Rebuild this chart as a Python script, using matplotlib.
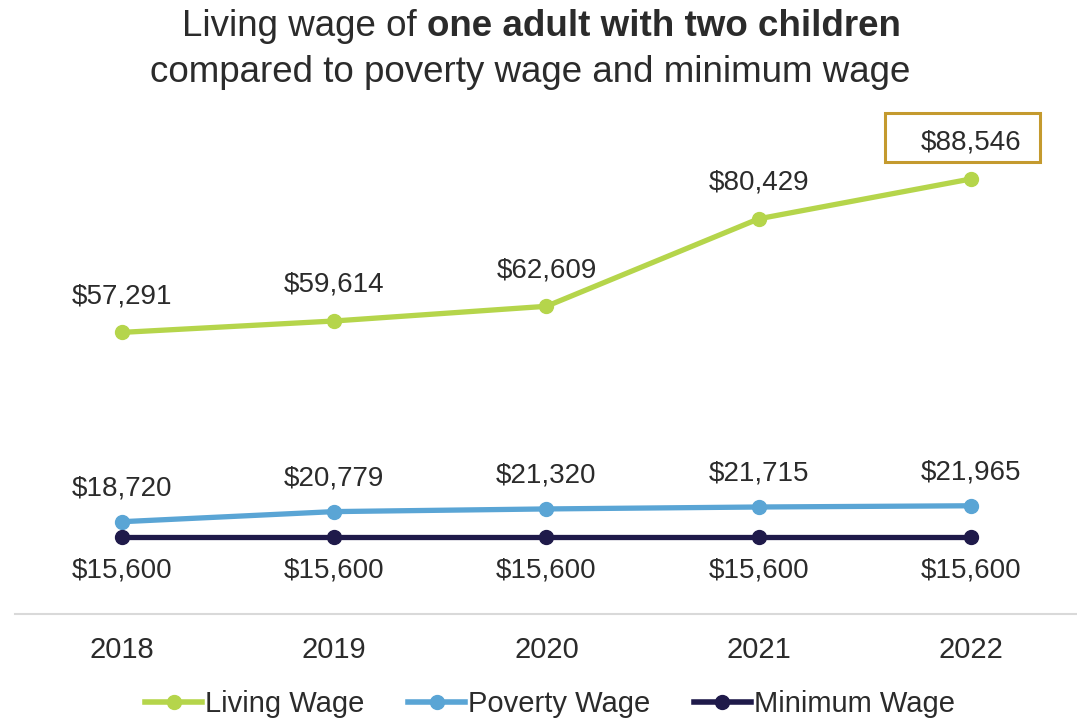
import matplotlib.pyplot as plt
from matplotlib.lines import Line2D
from matplotlib.patches import FancyBboxPatch

plt.rcParams['font.family'] = ['Liberation Sans', 'DejaVu Sans']

years = ['2018', '2019', '2020', '2021', '2022']
living_wage = [57291, 59614, 62609, 80429, 88546]
poverty_wage = [18720, 20779, 21320, 21715, 21965]
minimum_wage = [15600, 15600, 15600, 15600, 15600]

green = '#B5D54B'
blue = '#5AA5D5'
navy = '#1F1A4A'
txt = '#2B2B2B'

fig = plt.figure(figsize=(10.77, 7.2), dpi=100)
ax = fig.add_axes([15 / 1077, 0.1478, 1 - 15 / 1077, 0.6817])

x = list(range(len(years)))
ax.plot(x, living_wage, color=green, lw=3.8, marker='o', ms=10)
ax.plot(x, poverty_wage, color=blue, lw=3.8, marker='o', ms=10)
ax.plot(x, minimum_wage, color=navy, lw=3.8, marker='o', ms=10)

ax.set_xlim(-0.504, 4.5)
ax.set_ylim(0, 100000)

for i in x:
    ax.annotate('${:,}'.format(living_wage[i]), (i, living_wage[i]), xytext=(0, 26),
                textcoords='offset points', ha='center', va='center', fontsize=20, color=txt)
    ax.annotate('${:,}'.format(poverty_wage[i]), (i, poverty_wage[i]), xytext=(0, 24),
                textcoords='offset points', ha='center', va='center', fontsize=20, color=txt)
    ax.annotate('${:,}'.format(minimum_wage[i]), (i, minimum_wage[i]), xytext=(0, -24),
                textcoords='offset points', ha='center', va='center', fontsize=20, color=txt)

# highlight box around the latest living wage
box = FancyBboxPatch((885 / 1077, (720 - 162) / 720), 155 / 1077, 49 / 720,
                     boxstyle='square,pad=0', transform=fig.transFigure,
                     fill=False, edgecolor='#C49A2E', lw=2.2)
fig.patches.append(box)

for s in ['top', 'right', 'left']:
    ax.spines[s].set_visible(False)
ax.spines['bottom'].set_color('#D9D9D9')
ax.spines['bottom'].set_linewidth(1.5)
ax.set_yticks([])
ax.set_xticks(x)
ax.set_xticklabels(years, fontsize=21, color=txt)
ax.tick_params(axis='x', length=0, pad=16)

# two-part first title line: normal + bold, centred together
fig.canvas.draw()
r = fig.canvas.get_renderer()
t1 = fig.text(0, 0, 'Living wage of ', fontsize=26.5, color=txt)
t2 = fig.text(0, 0, 'one adult with two children', fontsize=26.5, color=txt, fontweight='bold')
w1 = t1.get_window_extent(r).width
w2 = t2.get_window_extent(r).width
cx = 541
left = cx - (w1 + w2) / 2
ty = 1 - 27 / 720
t1.set_position((left / 1077, ty))
t2.set_position(((left + w1) / 1077, ty))
t1.set_va('center')
t2.set_va('center')
fig.text(530 / 1077, 1 - 72 / 720, 'compared to poverty wage and minimum wage',
         fontsize=26.5, color=txt, ha='center', va='center')

handles = [Line2D([], [], color=c, lw=4, marker='o', ms=10) for c in (green, blue, navy)]
fig.legend(handles, ['Living Wage', 'Poverty Wage', 'Minimum Wage'], loc='center',
           bbox_to_anchor=(550 / 1077, 1 - 704 / 720), ncol=3, frameon=False,
           fontsize=21, handlelength=1.95, handletextpad=0.1, columnspacing=1.5,
           labelcolor=txt)

fig.savefig('out.png', dpi=100)
